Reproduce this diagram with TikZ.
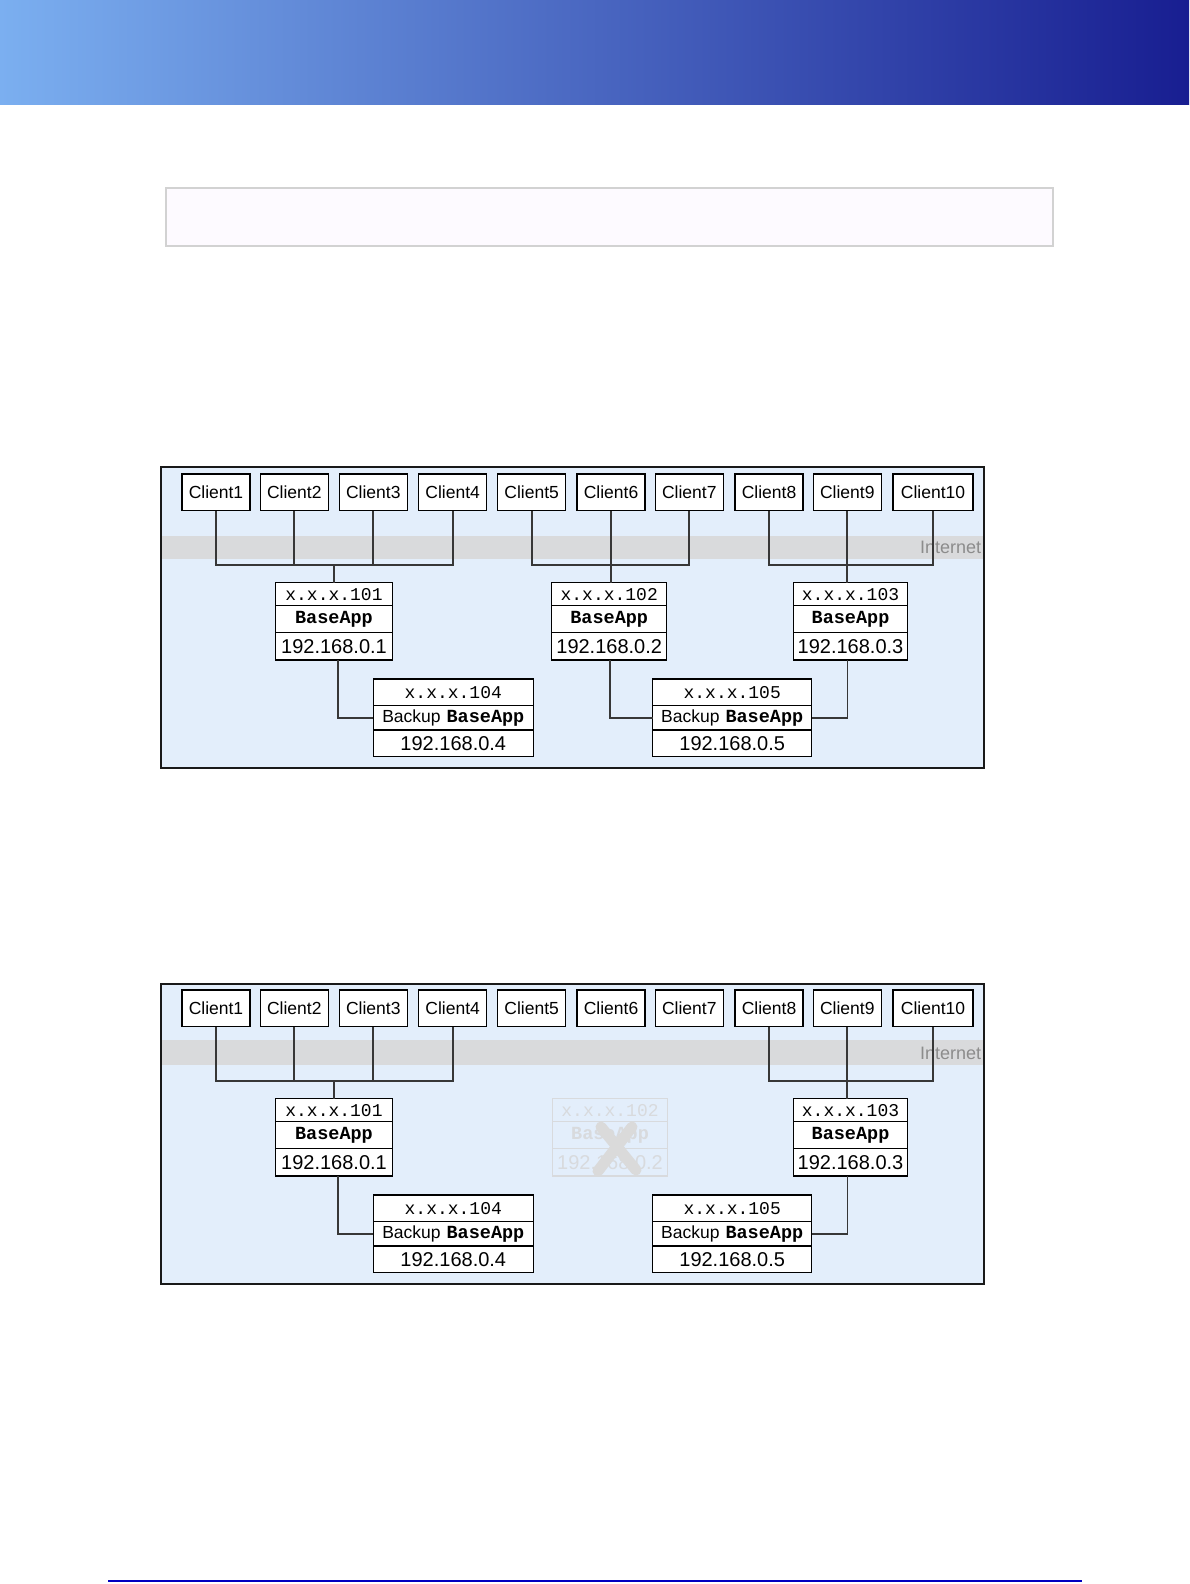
\documentclass[tikz,border=0pt]{standalone}
\usepackage{fontspec}
\setmainfont{Liberation Sans}
\newfontfamily\monof{Liberation Mono}
\definecolor{hdrL}{RGB}{123,175,240}
\definecolor{hdrR}{RGB}{24,30,145}
\definecolor{framebg}{RGB}{227,238,251}
\definecolor{bandc}{RGB}{217,218,220}
\definecolor{connc}{RGB}{55,55,55}
\definecolor{noteb}{RGB}{253,250,255}
\definecolor{notel}{RGB}{210,210,210}
\definecolor{footc}{RGB}{0,0,192}
\definecolor{inetc}{RGB}{140,140,140}
\definecolor{ghostc}{RGB}{216,218,221}
\definecolor{crossc}{RGB}{218,218,218}
\tikzset{
  client/.style={draw=black, line width=1.2pt, fill=white, minimum width=68pt, minimum height=36.7pt, inner sep=0pt, font=\fontsize{17.5}{17.5}\selectfont},
  cellbox/.style={draw=black, line width=1.2pt, fill=white, inner sep=0pt, outer sep=0pt, anchor=north},
  ipfont/.style={font=\fontsize{20}{20}\selectfont},
  monofont/.style={font=\monof\fontsize{18}{18}\selectfont},
  appfont/.style={font=\monof\bfseries\fontsize{18.5}{18.5}\selectfont},
  conn/.style={draw=connc, line width=1.8pt},
  ghost/.style={draw=ghostc, fill=none, text=ghostc},
  frameline/.style={draw=black!90, line width=2pt},
  inet/.style={text=inetc, font=\fontsize{18}{18}\selectfont, inner sep=0pt, anchor=west},
  crossline/.style={draw=crossc, line width=11pt, line cap=round}
}
% #1 extra style, #2 name, #3 cx, #4 top, #5 width, #6 top text, #7 ip
\newcommand{\srvbox}[7][]{%
  \node[cellbox, minimum width=#5pt, minimum height=23pt, monofont, #1] (#2a) at (#3,#4) {#6};
  \node[cellbox, minimum width=#5pt, minimum height=26.6pt, appfont, #1] (#2b) at (#2a.south) {BaseApp};
  \node[cellbox, minimum width=#5pt, minimum height=27.7pt, ipfont, #1] (#2c) at (#2b.south) {#7};
}
\newcommand{\bakbox}[5]{%
  \node[cellbox, minimum width=#3pt, minimum height=26.7pt, monofont] (#1a) at (#2,679) {#4};
  \node[cellbox, minimum width=#3pt, minimum height=24.3pt, appfont] (#1b) at (#1a.south) {{\normalfont\fontsize{17.5}{17.5}\selectfont Backup\hspace{6pt}}BaseApp};
  \node[cellbox, minimum width=#3pt, minimum height=26.7pt, ipfont] (#1c) at (#1b.south) {#5};
}
\newcommand{\clients}[1]{%
  \node[client] (#1c1) at (216,492.3) {Client1};
  \node[client] (#1c2) at (294.3,492.3) {Client2};
  \node[client] (#1c3) at (373.3,492.3) {Client3};
  \node[client] (#1c4) at (452.7,492.3) {Client4};
  \node[client] (#1c5) at (531.7,492.3) {Client5};
  \node[client] (#1c6) at (611,492.3) {Client6};
  \node[client] (#1c7) at (689.3,492.3) {Client7};
  \node[client] (#1c8) at (769,492.3) {Client8};
  \node[client] (#1c9) at (847.3,492.3) {Client9};
  \node[client, minimum width=80pt] (#1c10) at (933,492.3) {Client10};
}
\begin{document}
\begin{tikzpicture}[x=1pt,y=-1pt]
\useasboundingbox (0,0) rectangle (1189,1584);
% header
\shade[left color=hdrL, right color=hdrR] (0,0) rectangle (1189,105);
% note box
\draw[fill=noteb, draw=notel, line width=1.5pt] (166,188) rectangle (1053,246);
% footer line
\draw[footc, line width=2pt] (108,1581) -- (1082,1581);

% ================= diagram 1 =================
\fill[framebg] (161,466.7) rectangle (984,767.5);
\begin{scope}
  \clip (161,466.7) rectangle (984,767.5);
  \fill[bandc] (161,536) rectangle (984,559.3);
  \node[inet] (Ainet) at (920,547.5) {Internet};
\end{scope}
\clients{A}
\srvbox{As101}{334}{582.7}{116.6}{x.x.x.101}{192.168.0.1}
\srvbox{As102}{609.2}{582.7}{115}{x.x.x.102}{192.168.0.2}
\srvbox{As103}{850.5}{582.7}{114.4}{x.x.x.103}{192.168.0.3}
\bakbox{Ab104}{453.3}{160}{x.x.x.104}{192.168.0.4}
\bakbox{Ab105}{732.2}{159}{x.x.x.105}{192.168.0.5}
\coordinate (Aj1) at (334,565);
\coordinate (Aj2) at (611,565);
\coordinate (Aj3) at (847.3,565);
\draw[conn] (Ac1.south) |- (Aj1);
\draw[conn] (Ac2.south) |- (Aj1);
\draw[conn] (Ac3.south) |- (Aj1);
\draw[conn] (Ac4.south) |- (Aj1);
\draw[conn] (Aj1) -- (Aj1 |- As101a.north);
\draw[conn] (Ac5.south) |- (Aj2);
\draw[conn] (Ac7.south) |- (Aj2);
\draw[conn] (Ac6.south) -- (Ac6.south |- As102a.north);
\draw[conn] (Ac8.south) |- (Aj3);
\draw[conn] (Ac10.south) |- (Aj3);
\draw[conn] (Ac9.south) -- (Ac9.south |- As103a.north);
\draw[conn] ([xshift=4pt]As101c.south) |- (Ab104b.west);
\draw[conn] ([xshift=1pt]As102c.south) |- (Ab105b.west);
\draw[conn] ([xshift=-3pt]As103c.south) |- (Ab105b.east);
\draw[frameline] (161,466.7) rectangle (984,767.5);

% ================= diagram 2 =================
\begin{scope}[shift={(0,516)}]
\fill[framebg] (161,468) rectangle (983.5,768);
\begin{scope}
  \clip (161,468) rectangle (983.5,768);
  \fill[bandc] (161,523.5) rectangle (983.5,549);
  \node[inet] (Binet) at (920,537.5) {Internet};
\end{scope}
\clients{B}
\srvbox{Bs101}{334}{582.7}{116.6}{x.x.x.101}{192.168.0.1}
\srvbox[ghost]{Bs102}{610}{582.7}{115}{x.x.x.102}{192.168.0.2}
\draw[crossline] (601,611) -- (636,654);
\draw[crossline] (632,611) -- (598,655);
\srvbox{Bs103}{850.5}{582.7}{114.4}{x.x.x.103}{192.168.0.3}
\bakbox{Bb104}{453.3}{160}{x.x.x.104}{192.168.0.4}
\bakbox{Bb105}{732.2}{159}{x.x.x.105}{192.168.0.5}
\coordinate (Bj1) at (334,565);
\coordinate (Bj3) at (847.3,565);
\draw[conn] (Bc1.south) |- (Bj1);
\draw[conn] (Bc2.south) |- (Bj1);
\draw[conn] (Bc3.south) |- (Bj1);
\draw[conn] (Bc4.south) |- (Bj1);
\draw[conn] (Bj1) -- (Bj1 |- Bs101a.north);
\draw[conn] (Bc8.south) |- (Bj3);
\draw[conn] (Bc10.south) |- (Bj3);
\draw[conn] (Bc9.south) -- (Bc9.south |- Bs103a.north);
\draw[conn] ([xshift=4pt]Bs101c.south) |- (Bb104b.west);
\draw[conn] ([xshift=-3pt]Bs103c.south) |- (Bb105b.east);
\draw[frameline] (161,468) rectangle (983.5,768);
\end{scope}
\end{tikzpicture}
\end{document}
